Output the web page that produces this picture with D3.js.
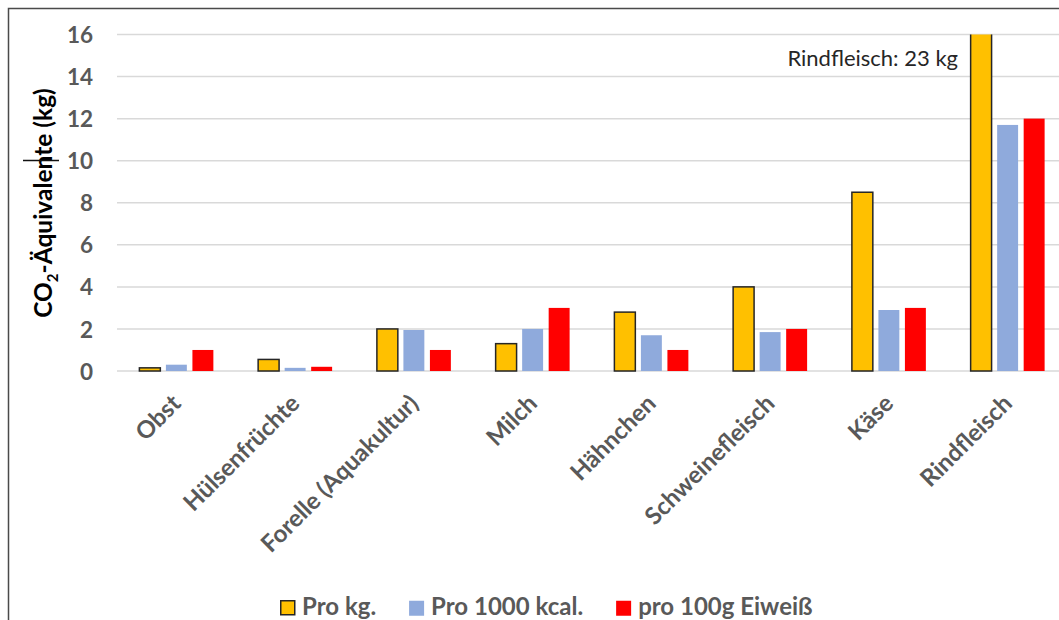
<!DOCTYPE html>
<html lang="de">
<head>
<meta charset="utf-8">
<script src="https://cdn.jsdelivr.net/npm/d3@7"></script>
<style>
  html, body { margin: 0; padding: 0; background: #fff; }
  svg { display: block; font-family: Lato, "Open Sans", sans-serif; }
</style>
</head>
<body>
<svg id="chart" width="1059" height="620"></svg>
<script>
// Lebensmittel (Kategorien)
const categories = ["Obst", "Hülsenfrüchte", "Forelle (Aquakultur)", "Milch", "Hähnchen", "Schweinefleisch", "Käse", "Rindfleisch"];
// Reihennamen
const seriesNames = ["Pro kg.", "Pro 1000 kcal.", "pro 100g Eiweiß"];
// CO2-Äquivalente in kg
const proKg = [0.15, 0.55, 2.0, 1.3, 2.8, 4.0, 8.5, 23];
const pro1000kcal = [0.3, 0.15, 1.95, 2.0, 1.7, 1.85, 2.9, 11.7];
const pro100gEiweiss = [1.0, 0.2, 1.0, 3.0, 1.0, 2.0, 3.0, 12.0];
// Achsenbeschriftung
const yTicks = [0, 2, 4, 6, 8, 10, 12, 14, 16];
const yMax = 16;

const seriesValues = [proKg, pro1000kcal, pro100gEiweiss];
const seriesFill = ["#FFC000", "#8FAADC", "#FF0000"];
const seriesStroke = ["#262626", "none", "none"];

const svg = d3.select("#chart");

const plot = { left: 117, right: 1067, top: 34.5, bottom: 371 };

const x0 = d3.scaleBand()
  .domain(categories)
  .range([plot.left, plot.right])
  .paddingInner(0.377)
  .paddingOuter(0.1885);

const x1 = d3.scaleBand()
  .domain(seriesNames)
  .range([0, x0.bandwidth()])
  .paddingInner(0.21);

const y = d3.scaleLinear().domain([0, yMax]).range([plot.bottom, plot.top]);

// Rahmen
svg.append("path")
  .attr("d", "M8.5,620 V8.5 H1059")
  .attr("fill", "none")
  .attr("stroke", "#4a4a4a")
  .attr("stroke-width", 1.5);

// Gitterlinien
svg.append("g")
  .selectAll("line")
  .data(yTicks)
  .join("line")
  .attr("x1", plot.left)
  .attr("x2", 1059)
  .attr("y1", d => y(d))
  .attr("y2", d => y(d))
  .attr("stroke", "#d9d9d9")
  .attr("stroke-width", 1.5);

// y-Achse (Beschriftung)
const yAxis = d3.axisLeft(y).tickValues(yTicks).tickSize(0).tickPadding(0);
const yAxisG = svg.append("g")
  .attr("transform", "translate(93,0)")
  .call(yAxis);
yAxisG.select(".domain").remove();
yAxisG.selectAll("text")
  .attr("fill", "#595959")
  .attr("font-family", "Lato, sans-serif")
  .attr("font-weight", "bold")
  .attr("font-size", 22.5)
  .attr("dy", "0.36em");

// Achsentitel
const yTitle = svg.append("text")
  .attr("transform", "translate(52,203) rotate(-90)")
  .attr("text-anchor", "middle")
  .attr("font-weight", "bold")
  .attr("font-size", 24.5)
  .attr("fill", "#000");
yTitle.append("tspan").text("CO");
yTitle.append("tspan").attr("font-size", 15).attr("dy", 6).text("2");
yTitle.append("tspan").attr("dy", -6).text("-Äquivalente (kg)");

svg.append("line")
  .attr("x1", 23).attr("x2", 59)
  .attr("y1", 160.5).attr("y2", 160.5)
  .attr("stroke", "#111")
  .attr("stroke-width", 1.3);

// Balken
svg.append("defs").append("clipPath")
  .attr("id", "plotClip")
  .append("rect")
  .attr("x", plot.left - 5)
  .attr("y", plot.top)
  .attr("width", 1059 - plot.left + 10)
  .attr("height", plot.bottom - plot.top + 5);

const groups = svg.append("g")
  .attr("clip-path", "url(#plotClip)")
  .selectAll("g")
  .data(categories)
  .join("g")
  .attr("transform", d => `translate(${x0(d)},0)`);

groups.selectAll("rect")
  .data((c, ci) => seriesNames.map((s, si) => ({ s, si, v: seriesValues[si][ci] })))
  .join("rect")
  .attr("x", d => x1(d.s))
  .attr("width", x1.bandwidth())
  .attr("y", d => y(d.v))
  .attr("height", d => y(0) - y(d.v))
  .attr("fill", d => seriesFill[d.si])
  .attr("stroke", d => seriesStroke[d.si])
  .attr("stroke-width", 1.5);

// Kategorienbeschriftung
svg.append("g")
  .selectAll("text")
  .data(categories)
  .join("text")
  .attr("transform", d => `translate(${x0(d) + x0.bandwidth() / 2 + 6},405) rotate(-45)`)
  .attr("text-anchor", "end")
  .attr("font-weight", "bold")
  .attr("font-size", 24)
  .attr("fill", "#595959")
  .text(d => d);

// Hinweis auf den abgeschnittenen Wert
const lastIdx = categories.length - 1;
svg.append("text")
  .attr("x", 958)
  .attr("y", 66)
  .attr("text-anchor", "end")
  .attr("font-size", 22)
  .attr("fill", "#262626")
  .text(`${categories[lastIdx]}: ${proKg[lastIdx]} kg`);

// Legende
const legend = svg.append("g").attr("transform", "translate(280,0)");
let lx = 0;
seriesNames.forEach((name, i) => {
  legend.append("rect")
    .attr("x", lx + (i === 0 ? 0.75 : 0))
    .attr("y", 600.75)
    .attr("width", i === 0 ? 14 : 15)
    .attr("height", i === 0 ? 14 : 15)
    .attr("fill", seriesFill[i])
    .attr("stroke", seriesStroke[i])
    .attr("stroke-width", 1.5);
  const t = legend.append("text")
    .attr("x", lx + 22)
    .attr("y", 615)
    .attr("font-weight", "bold")
    .attr("font-size", 24)
    .attr("fill", "#595959")
    .text(name);
  lx += 22 + t.node().getComputedTextLength() + 33;
});
</script>
</body>
</html>
